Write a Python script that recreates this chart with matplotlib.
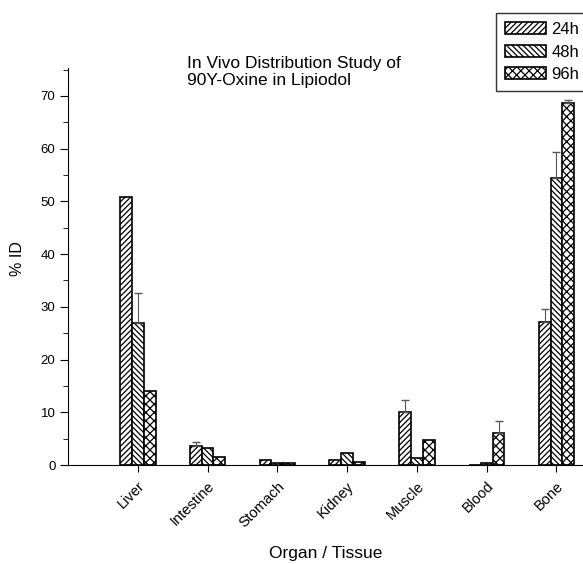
import numpy as np
import matplotlib.pyplot as plt

plt.rcParams['font.family'] = ['Liberation Sans', 'DejaVu Sans']
plt.rcParams['hatch.linewidth'] = 0.9

organs = ["Liver", "Intestine", "Stomach", "Kidney", "Muscle", "Blood", "Bone"]
h24 = [50.8, 3.6, 1.0, 1.0, 10.1, 0.0, 27.2]
h48 = [27.0, 3.3, 0.3, 2.3, 1.3, 0.3, 54.5]
h96 = [14.0, 1.5, 0.3, 0.6, 4.7, 6.1, 68.7]
err24 = [0, 0.7, 0, 0, 2.2, 0, 2.4]
err48 = [5.6, 0, 0, 0, 0, 0, 4.9]
err96 = [0, 0, 0, 0, 0, 2.3, 0.6]

x = np.arange(1, len(organs) + 1)
w = 0.17

fig = plt.figure(figsize=(5.83, 5.64), dpi=100)
ax = fig.add_axes([0.1166, 0.1755, 0.8834, 0.704])

series = [("24h", h24, err24, "//////", -w),
          ("48h", h48, err48, "\\\\\\\\\\\\", 0),
          ("96h", h96, err96, "xxxx", w)]
for name, vals, err, hatch, off in series:
    ax.bar(x + off, vals, w, color="white", edgecolor="black",
           linewidth=1.2, hatch=hatch, label=name)
    e = np.array(err)
    m = e > 0
    ax.errorbar((x + off)[m], np.array(vals)[m], yerr=[np.zeros(m.sum()), e[m]],
                fmt="none", ecolor="#555555", elinewidth=0.8, capsize=3)

ax.set_xlim(0, 7.38)
ax.set_ylim(0, 75.3)
ax.set_yticks(np.arange(0, 71, 10))
ax.set_yticks(np.arange(5, 76, 10), minor=True)
ax.set_xticks(x)
ax.set_xticklabels(organs, rotation=45, ha="right", rotation_mode="anchor",
                   fontsize=10.5)
ax.tick_params(axis="y", labelsize=9.5, length=6, pad=3)
ax.tick_params(axis="y", which="minor", length=3.5)
ax.tick_params(axis="x", length=5, pad=5)
for s in ["top", "right"]:
    ax.spines[s].set_visible(False)

ax.set_xlabel("Organ / Tissue", fontsize=12.5)
ax.xaxis.set_label_coords(0.5, -0.204)
ax.set_ylabel("% ID", fontsize=11.5)
ax.yaxis.set_label_coords(-0.083, 0.52)

fig.text(0.321, 0.872, "In Vivo Distribution Study of\n90Y-Oxine in Lipiodol",
         ha="left", va="center", fontsize=12.5, linespacing=1.15)

leg = ax.legend(loc="upper left", bbox_to_anchor=(0.851, 0.977),
                bbox_transform=fig.transFigure, fontsize=12, frameon=True,
                fancybox=False, edgecolor="black", handlelength=2.45,
                handleheight=0.72, handletextpad=0.3, borderpad=0.55,
                labelspacing=0.45, borderaxespad=0)
leg.get_frame().set_linewidth(1.0)

fig.savefig("out.png", dpi=100)
